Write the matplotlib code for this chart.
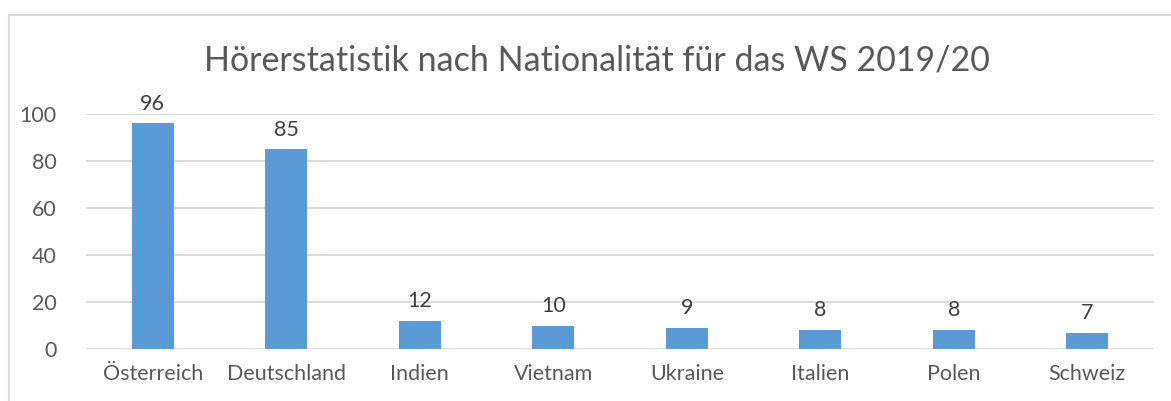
import matplotlib
matplotlib.use("Agg")
import matplotlib.pyplot as plt
from matplotlib.patches import Rectangle

categories = ["Österreich", "Deutschland", "Indien", "Vietnam", "Ukraine", "Italien", "Polen", "Schweiz"]
values = [96, 85, 12, 10, 9, 8, 8, 7]
yticks = [0, 20, 40, 60, 80, 100]
title = "Hörerstatistik nach Nationalität für das WS 2019/20"

W, H = 1171, 401
fig = plt.figure(figsize=(W / 100, H / 100), dpi=100)
plt.rcParams['font.family'] = ['Lato', 'DejaVu Sans']
text_color = "#595959"
grid_color = "#D9D9D9"
bar_color = "#5B9BD5"

# chart border (extends off the image on right/bottom)
fig.add_artist(Rectangle((9 / W, -0.05), 1.2, (H - 15) / H + 0.05, transform=fig.transFigure,
                         fill=False, edgecolor=grid_color, linewidth=1.5))

left, right = 86 / W, 1154 / W
bottom, top = 1 - 349 / H, 1 - 114 / H
ax = fig.add_axes([left, bottom, right - left, top - bottom])
x = range(len(categories))
bars = ax.bar(x, values, width=0.315, color=bar_color, zorder=3)
ax.set_xlim(-0.5, len(categories) - 0.5)
ax.set_ylim(0, 100)
ax.set_yticks(yticks)
ax.set_xticks(list(x))
ax.set_xticklabels(categories)
for s in ax.spines.values():
    s.set_visible(False)
ax.grid(axis='y', color=grid_color, linewidth=1.3, zorder=0)
ax.tick_params(axis='both', length=0, labelsize=15.5, colors=text_color)
ax.tick_params(axis='y', pad=21)
ax.tick_params(axis='x', pad=11)
for xi, v in zip(x, values):
    ax.annotate(str(v), (xi, v), xytext=(0, 7), textcoords='offset points',
                ha='center', va='bottom', fontsize=15.5, color="#404040")

fig.text(597 / W, 1 - 60 / H, title, ha='center', va='center', fontsize=24.5, color=text_color)

fig.savefig("out.png", dpi=100)
